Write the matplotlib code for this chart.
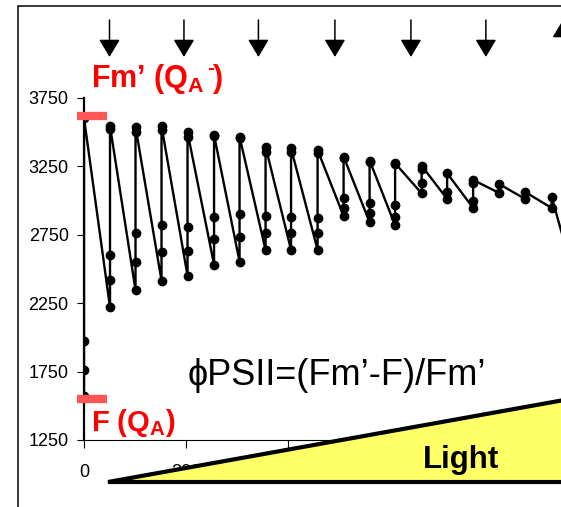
import matplotlib

matplotlib.use("Agg")
import matplotlib.pyplot as plt
from matplotlib.patches import Polygon, Rectangle

# -- Fonts ----------------------------------------------------------
plt.rcParams.update(
    {
        "font.family": ["Liberation Sans", "DejaVu Sans"],
        "mathtext.fontset": "custom",
        "mathtext.rm": "Liberation Sans",
        "mathtext.bf": "Liberation Sans:bold",
        "mathtext.it": "Liberation Sans:italic",
    }
)

# -- Colours --------------------------------------------------------
RED = "#FF0000"  # Fm' / F labels
BAR = "#FF5555"  # Fm' / F reference bars
YELLOW = "#FFFF66"  # light ramp

# -- Data -----------------------------------------------------------
# time of each saturating pulse (s)
pulse_t = [0, 51, 101, 152, 203, 255, 305, 356, 406, 458,
           509, 560, 610, 662, 712, 763, 814, 865, 917, 968]

# fluorescence readings around each pulse, steady state F first, Fm' last
pulse_fluor = [
    [1570, 1760, 1975, 3604],
    [2220, 2420, 2602, 3521, 3545],
    [2346, 2553, 2761, 3505, 3540],
    [2415, 2627, 2822, 3516, 3545],
    [2451, 2634, 2810, 3463, 3499],
    [2532, 2718, 2878, 3470, 3480],
    [2554, 2735, 2905, 3460, 3468],
    [2639, 2761, 2890, 3358, 3394],
    [2639, 2766, 2883, 3358, 3382],
    [2639, 2761, 2870, 3346, 3370],
    [2887, 2944, 3017, 3310, 3322],
    [2842, 2913, 2986, 3285, 3293],
    [2820, 2877, 2970, 3265, 3273],
    [3053, 3126, 3229, 3255],
    [3012, 3063, 3200],
    [2946, 2997, 3129, 3151],
    [3056, 3121],
    [3012, 3063],
    [2946, 3026],
    [2350],
]

# light steps (down) and light off (up)
step_t = [50, 196, 342, 492, 641, 788]
off_t = 939

fm_level = 3620  # Fm' (QA-) reference
f_level = 1550  # F (QA) reference
ref_span = [-13, 46]

y_ticks = [1250, 1750, 2250, 2750, 3250, 3750]
x_ticks = [0, 200, 400, 600]

# flatten pulse readings into one trace
trace_t = []
trace_f = []
for t, vals in zip(pulse_t, pulse_fluor):
    for v in vals:
        trace_t.append(t)
        trace_f.append(v)

W, H = 561, 507
fig = plt.figure(figsize=(W / 100, H / 100), dpi=100)

# outer frame
fig.add_artist(
    Rectangle((18 / W, -0.1), 1.2, 1.1 - 6 / H, transform=fig.transFigure,
              fill=False, edgecolor="black", linewidth=1.1)
)

ax = fig.add_axes([84 / W, 67 / H, 612 / W, 342 / H])
ax.set_xlim(0, 1200)
ax.set_ylim(1250, 3750)
for side in ["top", "right"]:
    ax.spines[side].set_visible(False)
ax.spines["left"].set_linewidth(1.6)
ax.spines["bottom"].set_linewidth(0.8)
ax.set_yticks(y_ticks)
ax.set_xticks(x_ticks)
ax.tick_params(axis="y", length=5, width=0.8, pad=6, labelsize=13)
ax.tick_params(axis="x", length=6, width=0.8, pad=11, labelsize=13)

ax.plot(trace_t, trace_f, color="black", linewidth=1.7, marker="o",
        markersize=6, clip_on=True, zorder=3)

# reference levels
ax.plot(ref_span, [fm_level, fm_level], color=BAR, linewidth=6,
        solid_capstyle="butt", clip_on=False, zorder=4)
ax.plot(ref_span, [f_level, f_level], color=BAR, linewidth=6,
        solid_capstyle="butt", clip_on=False, zorder=4)

# light step arrows
arrow_props = dict(arrowstyle="-|>,head_length=0.4,head_width=0.24",
                   mutation_scale=27, color="black", lw=1.1,
                   shrinkA=0, shrinkB=0)
for t in step_t:
    ax.annotate("", xy=(t, 4050), xytext=(t, 4320),
                arrowprops=arrow_props, annotation_clip=False)
ax.annotate("", xy=(off_t, 4320), xytext=(off_t, 4050),
            arrowprops=arrow_props, annotation_clip=False)


def fx(px):
    return px / W


def fy(py):
    return 1 - py / H


# Fm' (QA-) label, superscript dash set after the subscript
renderer = fig.canvas.get_renderer()
fm_txt = fig.text(fx(91), fy(87), r"Fm’ (Q$_\mathbf{A}$", color=RED,
                  fontsize=22, fontweight="bold", ha="left", va="baseline")
x_end = fm_txt.get_window_extent(renderer).x1
fig.text((x_end + 2) / W, fy(74), "-", color=RED, fontsize=15,
         fontweight="bold", ha="left", va="baseline")
fig.text((x_end + 8) / W, fy(87), ")", color=RED, fontsize=22,
         fontweight="bold", ha="left", va="baseline")

fig.text(fx(91), fy(431), r"F (Q$_\mathbf{A}$)", color=RED,
         fontsize=21, fontweight="bold", ha="left", va="baseline")
fig.text(fx(188), fy(385), "ϕPSII=(Fm’-F)/Fm’", color="black",
         fontsize=26, ha="left", va="baseline")

# light ramp
slope = (481.5 - 400.7) / (561 - 108)
ramp = Polygon(
    [(fx(108), fy(481.5)), (fx(720), fy(481.5)),
     (fx(720), fy(481.5 - slope * (720 - 108)))],
    closed=True, transform=fig.transFigure, facecolor=YELLOW,
    edgecolor="black", linewidth=3, joinstyle="miter", zorder=10,
)
fig.add_artist(ramp)
fig.text(fx(423), fy(468), "Light", color="black", fontsize=22.5,
         fontweight="bold", ha="left", va="baseline", zorder=11)

fig.savefig("out.png", dpi=100)
